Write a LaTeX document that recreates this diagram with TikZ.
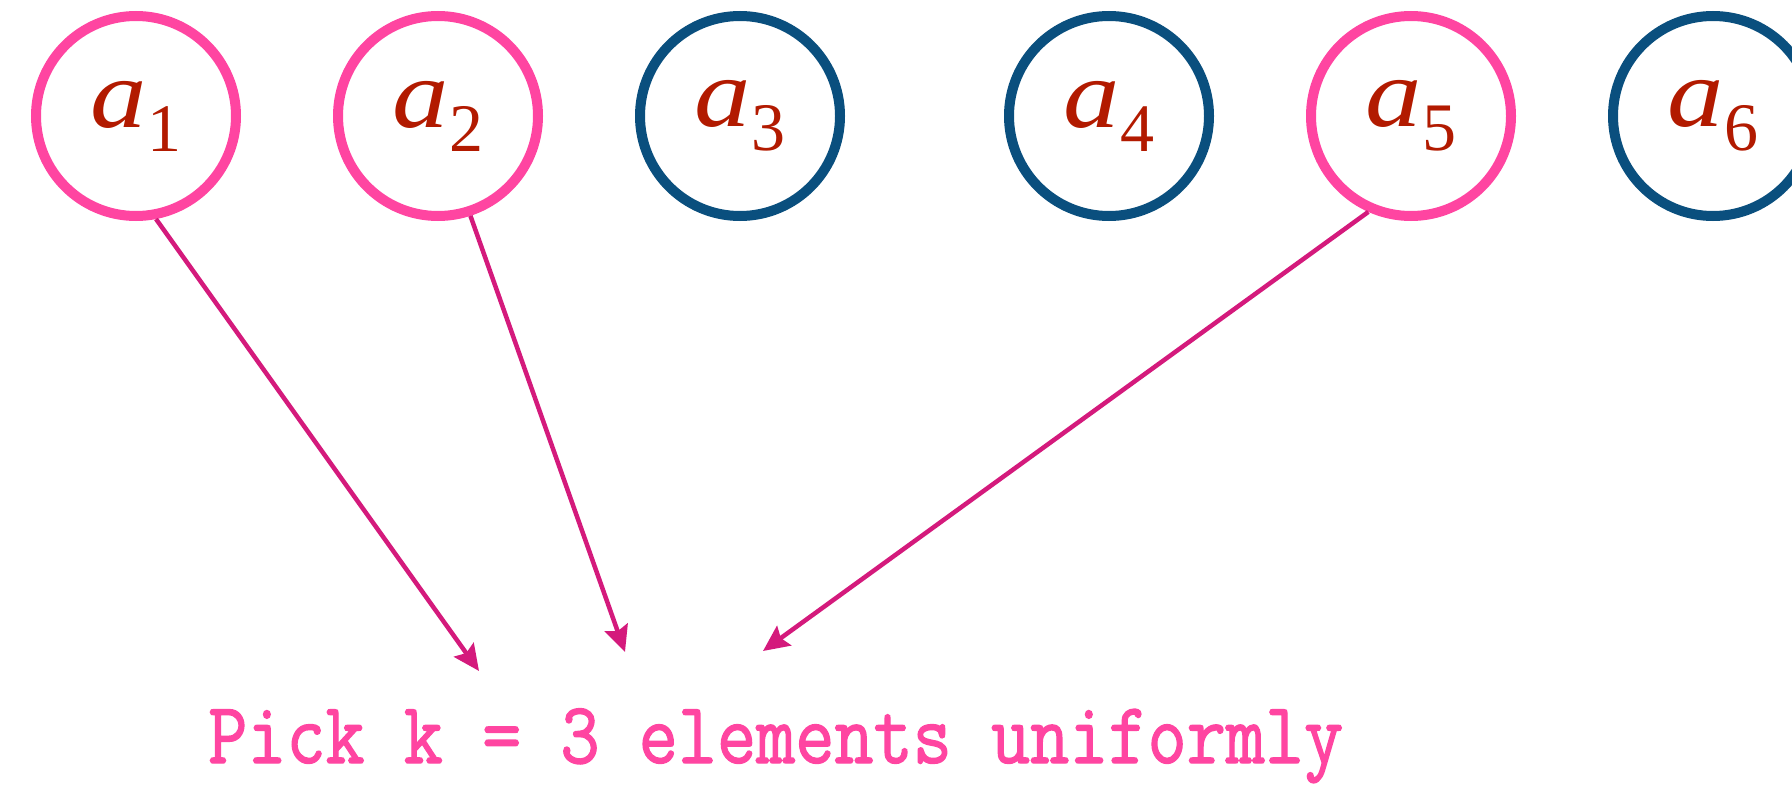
\documentclass[tikz,border=0pt]{standalone}
\usepackage{fontspec}
\usepackage{graphicx}
\usetikzlibrary{positioning,arrows.meta}
\newfontfamily\elemfont{Liberation Serif}
\newfontfamily\pickfont{Latin Modern Mono}[FakeBold=1.6]
\definecolor{pickpink}{HTML}{FF45A1}
\definecolor{skipblue}{HTML}{0A4F7E}
\definecolor{labelred}{HTML}{B21A00}
\definecolor{arrowpink}{HTML}{D41A7C}
\newcommand{\elem}[1]{\scalebox{1.15}[1]{\itshape a}\raisebox{-24pt}{\fontsize{68}{68}\selectfont #1}}

\begin{document}
\begin{tikzpicture}[x=1pt, y=-1pt,
  node distance=92pt,
  elem/.style={circle, minimum size=200pt, inner sep=0pt, line width=10pt, text=labelred, font=\elemfont\fontsize{98}{98}\selectfont},
  picked/.style={elem, draw=pickpink},
  skipped/.style={elem, draw=skipblue},
  arr/.style={-{Stealth[length=26pt, width=24pt, inset=4pt]}, line width=4.5pt, draw=arrowpink, fill=arrowpink}]
\useasboundingbox (0,0) rectangle (1792,789);
\node[picked] (a1) at (136,116) {\elem{1}};
\node[picked, right=of a1] (a2) {\elem{2}};
\node[skipped, right=of a2] (a3) {\elem{3}};
\node[skipped, right=159pt of a3] (a4) {\elem{4}};
\node[picked, right=of a4] (a5) {\elem{5}};
\node[skipped, right=of a5] (a6) {\elem{6}};
\node[anchor=base west, inner sep=0pt, text=pickpink, font=\pickfont\fontsize{76}{76}\selectfont] (pick) at (208,763) {\scalebox{1}[1.15]{Pick k = 3 elements uniformly}};
% arrow tips sit just above the caption
\coordinate (t1) at (479,671);
\coordinate (t2) at (625,652);
\coordinate (t3) at (763,651);
\draw[arr] (a1.-79) -- (t1);
\draw[arr] (a2.-72) -- (t2);
\draw[arr] (a5.-114) -- (t3);
\end{tikzpicture}
\end{document}
